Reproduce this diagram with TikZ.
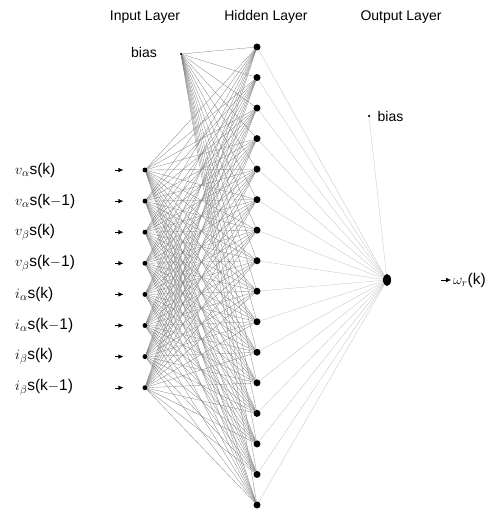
\documentclass[tikz,border=0pt]{standalone}
\usepackage{fontspec}
\setmainfont{Liberation Sans}
\usetikzlibrary{arrows.meta, positioning, shapes.geometric}
\tikzset{
    % Node styles
    inputnode/.style={
        circle,
        fill=black,
        inner sep=0pt,
        minimum size=5pt
    },
    hiddennode/.style={
        circle,
        fill=black,
        inner sep=0pt,
        minimum size=7pt
    },
    outputnode/.style={
        ellipse,
        fill=black,
        inner sep=0pt,
        minimum width=8pt,
        minimum height=12pt
    },
    biasnode/.style={
        circle,
        fill=black,
        inner sep=0pt,
        minimum size=2.5pt
    },
    layertitle/.style={
        inner sep=0pt,
        font=\fontsize{14}{16}\selectfont
    },
    varlabel/.style={
        anchor=west,
        inner sep=0pt,
        font=\fontsize{15.5}{18}\selectfont
    },
    % Arrow styles
    myarrow/.style={
        -{Latex[length=5pt,width=4.5pt]},
        thin,
        black
    },
    weightline/.style={
        black!50,
        line width=0.3pt
    },
    outweight/.style={
        black!25,
        line width=0.3pt
    }
}

\begin{document}
\begin{tikzpicture}[x=1pt, y=-1pt]
    \useasboundingbox (0,0) rectangle (499,516);

    % Layer titles
    \node[layertitle, anchor=base] (tin) at (145,21) {Input Layer};
    \node[layertitle, anchor=base] (thid) at (266,21) {Hidden Layer};
    \node[layertitle, anchor=base] (tout) at (401,21) {Output Layer};

    % Input layer
    \foreach \i/\lab in {1/{$v_\alpha$s(k)}, 2/{$v_\alpha$s(k$-$1)},
                         3/{$v_\beta$s(k)}, 4/{$v_\beta$s(k$-$1)},
                         5/{$i_\alpha$s(k)}, 6/{$i_\alpha$s(k$-$1)},
                         7/{$i_\beta$s(k)}, 8/{$i_\beta$s(k$-$1)}} {
        \node[inputnode] (in\i) at (145,{170+(\i-1)*31.1}) {};
        \node[varlabel] (lab\i) at (15,{170+(\i-1)*31.1}) {\lab};
        \coordinate (s\i) at (115,{170+(\i-1)*31.1});
        \draw[myarrow, shorten >=19pt] (s\i) -- (in\i);
    }
    \node[biasnode] (b1) at (181,54) {};
    \node[layertitle, anchor=base east] (b1lab) at (157,58) {bias};

    % Hidden layer
    \foreach \j in {1,...,16} {
        \node[hiddennode] (h\j) at (257,{47+(\j-1)*30.53}) {};
    }

    % Output layer
    \node[outputnode] (out) at (387,280) {};
    \node[biasnode] (b2) at (369,116) {};
    \node[layertitle, right=7pt of b2] (b2lab) {bias};
    \node[varlabel] (wr) at (453,280) {$\omega_r$(k)};

    % Weights
    \foreach \j in {1,...,16} {
        \foreach \i in {1,...,8} {
            \draw[weightline] (in\i) -- (h\j);
        }
        \draw[weightline] (b1) -- (h\j);
        \draw[outweight] (h\j) -- (out);
    }
    \draw[outweight] (b2) -- (out);

    % Output arrow
    \draw[myarrow, shorten <=50pt, shorten >=2pt] (out) -- (wr);
\end{tikzpicture}
\end{document}
